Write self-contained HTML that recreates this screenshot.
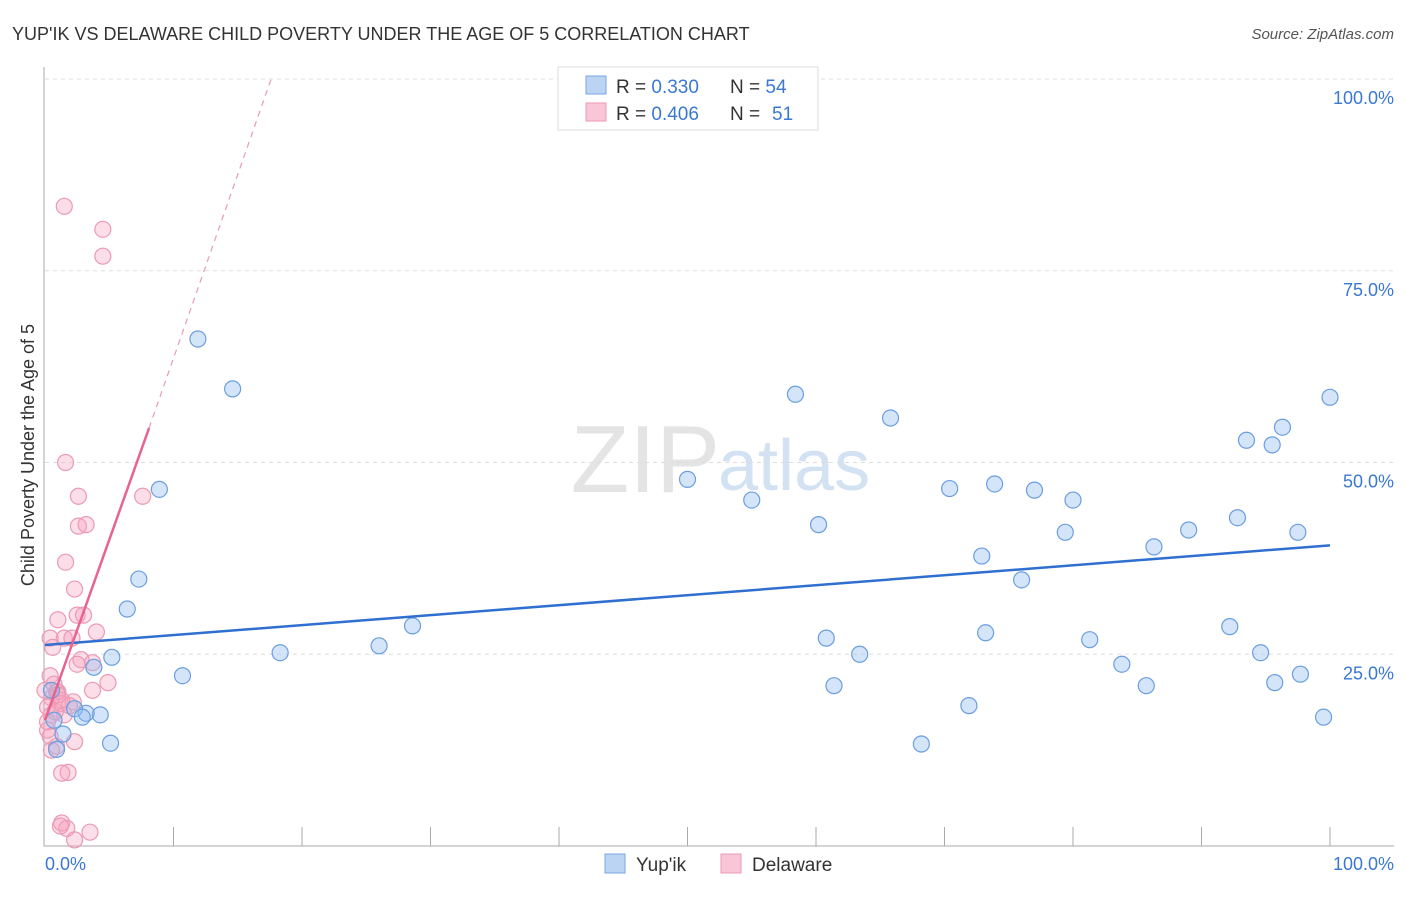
<!DOCTYPE html>
<html><head><meta charset="utf-8">
<style>
body{margin:0;background:#fff;font-family:"Liberation Sans",sans-serif;}
svg text{font-family:"Liberation Sans",sans-serif;}
</style></head>
<body>
<svg id="chart" width="1406" height="892">
<text x="12" y="40" font-size="18" fill="#333">YUP'IK VS DELAWARE CHILD POVERTY UNDER THE AGE OF 5 CORRELATION CHART</text>
<text x="1394" y="39" font-size="15" fill="#555" font-style="italic" text-anchor="end">Source: ZipAtlas.com</text>
<text x="720" y="492" font-size="96" fill="#e4e4e4" font-family="Liberation Serif" text-anchor="end">ZIP</text>
<text x="718" y="490" font-size="72" fill="#d3e2f3">atlas</text>
<g id="grid"></g>
<g id="axes"></g>
<g id="marks"></g>
<text transform="translate(34,455) rotate(-90)" font-size="18" fill="#333" text-anchor="middle">Child Poverty Under the Age of 5</text>
<text x="45" y="870" font-size="18" fill="#3a78d4">0.0%</text>
<text x="1394" y="870" font-size="18" fill="#3a78d4" text-anchor="end">100.0%</text>
<g>
<rect x="558" y="67" width="260" height="63" fill="#fff" stroke="#ddd"/>
<rect x="586" y="76" width="20" height="18" fill="#bcd4f4" stroke="#7aa6e0"/>
<rect x="586" y="103" width="20" height="18" fill="#f8c6d6" stroke="#eb9ab4"/>
<text x="616" y="93" font-size="19" fill="#333">R = <tspan fill="#3a78d4">0.330</tspan><tspan x="730">N = </tspan><tspan fill="#3a78d4">54</tspan></text>
<text x="616" y="120" font-size="19" fill="#333">R = <tspan fill="#3a78d4">0.406</tspan><tspan x="730">N = </tspan><tspan x="772" fill="#3a78d4">51</tspan></text>
</g>
<g>
<rect x="605" y="854" width="20" height="19" fill="#bcd4f4" stroke="#7aa6e0"/>
<text x="636" y="871" font-size="19" fill="#333">Yup'ik</text>
<rect x="721" y="854" width="20" height="19" fill="#f8c6d6" stroke="#eb9ab4"/>
<text x="752" y="871" font-size="19" fill="#333">Delaware</text>
</g>
</svg>
<script>
const yTicks=[25,50,75,100];
const yTickLabels=["25.0%","50.0%","75.0%","100.0%"];
const yupikX=[11.9,14.6,8.9,7.3,6.4,5.2,3.8,10.7,18.3,26.0,28.6,4.3,3.2,2.3,2.9,1.4,0.9,5.1,0.5,50.0,55.0,60.2,58.4,65.8,60.8,63.4,61.4,70.4,73.9,77.0,72.9,76.0,73.2,71.9,68.2,80.0,79.4,81.3,83.8,85.7,86.3,89.0,92.2,92.8,93.5,95.5,96.3,100.0,97.5,94.6,95.7,97.7,99.5,0.7];
const yupikY=[66.1,59.6,46.5,34.8,30.9,24.6,23.3,22.2,25.2,26.1,28.7,17.1,17.3,17.9,16.8,14.6,12.6,13.4,20.3,47.8,45.1,41.9,58.9,55.8,27.1,25.0,20.9,46.6,47.2,46.4,37.8,34.7,27.8,18.3,13.3,45.1,40.9,26.9,23.7,20.9,39.0,41.2,28.6,42.8,52.9,52.3,54.6,58.5,40.9,25.2,21.3,22.4,16.8,16.4];
const delX=[1.5,4.5,4.5,1.6,2.6,2.6,3.2,7.6,1.6,2.3,1.0,2.5,3.0,4.0,1.5,2.1,0.4,0.6,2.8,3.7,2.5,4.9,3.7,0.4,0.7,0.9,0.5,1.0,2.2,1.2,0.2,1.5,0.5,0.2,0.9,2.3,1.8,1.3,1.3,1.7,1.2,3.5,2.3,0.4,0.2,0.8,1.9,1.3,0.0,0.5,1.0];
const delY=[83.4,80.4,76.9,50.0,45.6,41.7,41.9,45.6,37.0,33.5,29.5,30.1,30.1,27.9,27.1,27.1,27.1,25.9,24.3,23.9,23.7,21.3,20.3,22.2,21.1,20.1,19.3,20.1,18.8,18.6,18.1,17.1,17.1,15.1,13.0,13.6,9.6,9.5,3.0,2.3,2.6,1.8,0.8,14.3,16.2,17.5,18.3,19.0,20.3,12.5,19.7];
const blueLine=[[0,26.2],[100,39.2]];
const pinkSolid=[[0,16.4],[8.1,54.5]];
const pinkDash=[[8.1,54.5],[17.6,100]];
const X=v=>45+v*12.85, Y=v=>846-v*7.67;
const ns="http://www.w3.org/2000/svg";
function mk(tag,attrs,parent){const e=document.createElementNS(ns,tag);for(const k in attrs)e.setAttribute(k,attrs[k]);parent.appendChild(e);return e;}
const grid=document.getElementById('grid'),axes=document.getElementById('axes'),marks=document.getElementById('marks');
yTicks.forEach((t,i)=>{
  const g=mk('line',{x1:45,x2:1394,y1:Y(t),y2:Y(t),stroke:'#ddd','stroke-dasharray':'4,4'},grid);
  
  
  const tx=mk('text',{x:1394,y:Y(t)+25,'font-size':18,fill:'#3a78d4','text-anchor':'end'},grid);
  tx.textContent=yTickLabels[i];
  
  
});
const ya=mk('line',{x1:44,x2:44,y1:67,y2:846,stroke:'#aaa'},axes);


const xa=mk('line',{x1:44,x2:1394,y1:846,y2:846,stroke:'#aaa'},axes);


for(let i=1;i<=10;i++){const t=mk('line',{x1:X(i*10),x2:X(i*10),y1:827,y2:846,stroke:'#aaa'},axes);

}
delX.forEach((x,i)=>{const c=mk('circle',{cx:X(x),cy:Y(delY[i]),r:8,fill:'rgba(245,160,190,0.35)',stroke:'#eb9ab4','stroke-width':1.2},marks);

});
yupikX.forEach((x,i)=>{const c=mk('circle',{cx:X(x),cy:Y(yupikY[i]),r:8,fill:'rgba(150,190,240,0.4)',stroke:'#6a9ee0','stroke-width':1.2},marks);

});
const bl=mk('line',{x1:X(blueLine[0][0]),y1:Y(blueLine[0][1]),x2:X(blueLine[1][0]),y2:Y(blueLine[1][1]),stroke:'#2f6fd0','stroke-width':2.5},marks);


const ps=mk('line',{x1:X(pinkSolid[0][0]),y1:Y(pinkSolid[0][1]),x2:X(pinkSolid[1][0]),y2:Y(pinkSolid[1][1]),stroke:'#e8638e','stroke-width':2.5},marks);


const pd=mk('line',{x1:X(pinkDash[0][0]),y1:Y(pinkDash[0][1]),x2:X(pinkDash[1][0]),y2:Y(pinkDash[1][1]),stroke:'#eb9ab4','stroke-width':1.2,'stroke-dasharray':'6,5'},marks);


</script>
</body></html>
